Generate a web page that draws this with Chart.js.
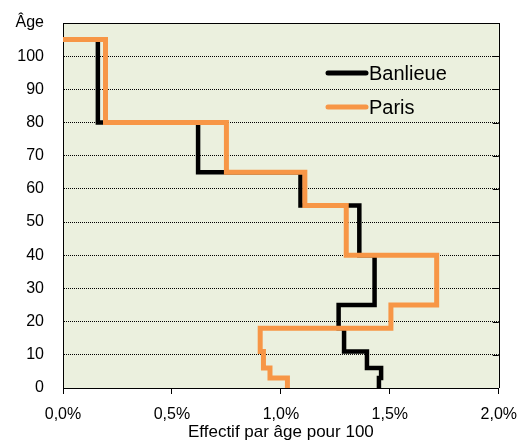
<!DOCTYPE html>
<html>
<head>
<meta charset="utf-8">
<script src="https://cdn.jsdelivr.net/npm/chart.js@4/dist/chart.umd.min.js"></script>
<style>
  body { margin: 0; background: #fff; }
  #box { width: 528px; height: 443px; position: relative; }
</style>
</head>
<body>
<div id="box"><canvas id="grafico"></canvas></div>
<script>
// bornes des tranches d'âge (du haut vers le bas)
var bornesAge = [105, 80, 65, 55, 40, 25, 18, 11, 6, 3, 0];
// effectif par âge pour 100, une valeur par tranche (80-105, 65-80, ... 0-3)
var banlieue = [0.16, 0.62, 1.09, 1.36, 1.43, 1.265, 1.29, 1.395, 1.46, 1.45];
var paris = [0.195, 0.75, 1.11, 1.30, 1.715, 1.505, 0.905, 0.92, 0.95, 1.03];
var series = ["Banlieue", "Paris"];
var couleurs = ["#000000", "#F79646"];
var ticksX = [0, 0.5, 1, 1.5, 2];
var ticksY = [0, 10, 20, 30, 40, 50, 60, 70, 80, 90, 100, 110];

// construit le tracé en escalier à partir des tranches
function escalier(valeurs) {
    var pts = [{ x: 0, y: bornesAge[0] }];
    for (var i = 0; i < valeurs.length; i++) {
        pts.push({ x: valeurs[i], y: bornesAge[i] });
        pts.push({ x: valeurs[i], y: bornesAge[i + 1] });
    }
    return pts;
}

var police = "'Liberation Sans', Arial, sans-serif";
Chart.defaults.font.family = police;
Chart.defaults.color = "#000";

var cadre = {
    id: "cadre",
    beforeDraw: function (chart) {
        var a = chart.chartArea, ctx = chart.ctx;
        ctx.save();
        ctx.fillStyle = "#EBF0DE";
        ctx.fillRect(a.left, a.top, a.right - a.left, a.bottom - a.top);
        ctx.restore();
    },
    afterDraw: function (chart) {
        var a = chart.chartArea, ctx = chart.ctx, y = chart.scales.y;
        ctx.save();
        ctx.strokeStyle = "#000";
        ctx.lineWidth = 1;
        ctx.beginPath();
        ctx.moveTo(a.left, Math.round(a.top) + 0.5);
        ctx.lineTo(a.right, Math.round(a.top) + 0.5);
        ctx.moveTo(Math.round(a.right) + 0.5, a.top);
        ctx.lineTo(Math.round(a.right) + 0.5, a.bottom);
        ticksY.forEach(function (v) {
            var py = Math.round(y.getPixelForValue(v)) + 0.5;
            ctx.moveTo(a.right - 6, py);
            ctx.lineTo(a.right, py);
        });
        ctx.stroke();

        // légende dans la zone de tracé
        var x0 = 328, x1 = 366, y0 = 73, dy = 34;
        chart.data.datasets.forEach(function (ds, i) {
            var yy = y0 + i * dy;
            ctx.strokeStyle = ds.borderColor;
            ctx.lineWidth = 5;
            ctx.lineCap = "round";
            ctx.beginPath();
            ctx.moveTo(x0, yy);
            ctx.lineTo(x1, yy);
            ctx.stroke();
            ctx.fillStyle = "#000";
            ctx.font = "20px " + police;
            ctx.textBaseline = "middle";
            ctx.textAlign = "left";
            ctx.fillText(ds.label, x1 + 3, yy + 1);
        });
        ctx.restore();
    }
};

var datos = {
    datasets: [{
        label: series[0],
        data: escalier(banlieue),
        borderColor: couleurs[0],
        borderWidth: 4.5,
        order: 1
    }, {
        label: series[1],
        data: escalier(paris),
        borderColor: couleurs[1],
        borderWidth: 5,
        order: 0
    }]
};

var opciones = {
    responsive: true,
    maintainAspectRatio: false,
    animation: false,
    layout: { padding: { top: 23, right: 26, left: 0, bottom: 0 } },
    elements: {
        point: { radius: 0 },
        line: { tension: 0, borderJoinStyle: "miter", borderCapStyle: "butt" }
    },
    plugins: {
        legend: { display: false },
        tooltip: { enabled: false }
    },
    scales: {
        x: {
            type: "linear",
            min: 0,
            max: 2,
            afterFit: function (s) { s.height = 55; },
            afterBuildTicks: function (s) { s.ticks = ticksX.map(function (v) { return { value: v }; }); },
            ticks: {
                padding: 11,
                font: { size: 16 },
                callback: function (v) { return v.toFixed(1).replace(".", ",") + "%"; }
            },
            grid: { drawOnChartArea: false, drawTicks: true, tickLength: 6, color: "#000" },
            border: { display: true, color: "#000", width: 1 },
            title: {
                display: true,
                text: "Effectif par âge pour 100",
                font: { size: 17 },
                padding: { top: 0, bottom: 0 }
            }
        },
        y: {
            min: 0,
            max: 110,
            afterFit: function (s) {
                s.width = 63;
                s.paddingTop = 0;
                s.paddingBottom = 0;
            },
            afterBuildTicks: function (s) { s.ticks = ticksY.map(function (v) { return { value: v }; }); },
            ticks: {
                padding: 19,
                font: { size: 16 },
                callback: function (v) { return v === 110 ? "Âge" : v; }
            },
            grid: { drawTicks: false, color: "#000", lineWidth: 1 },
            border: { display: true, color: "#000", width: 1, dash: [1, 1] }
        }
    }
};

var ctx = document.getElementById("grafico");
var grafico = new Chart(ctx, {
    type: "line",
    data: datos,
    options: opciones,
    plugins: [cadre]
});
</script>
</body>
</html>
